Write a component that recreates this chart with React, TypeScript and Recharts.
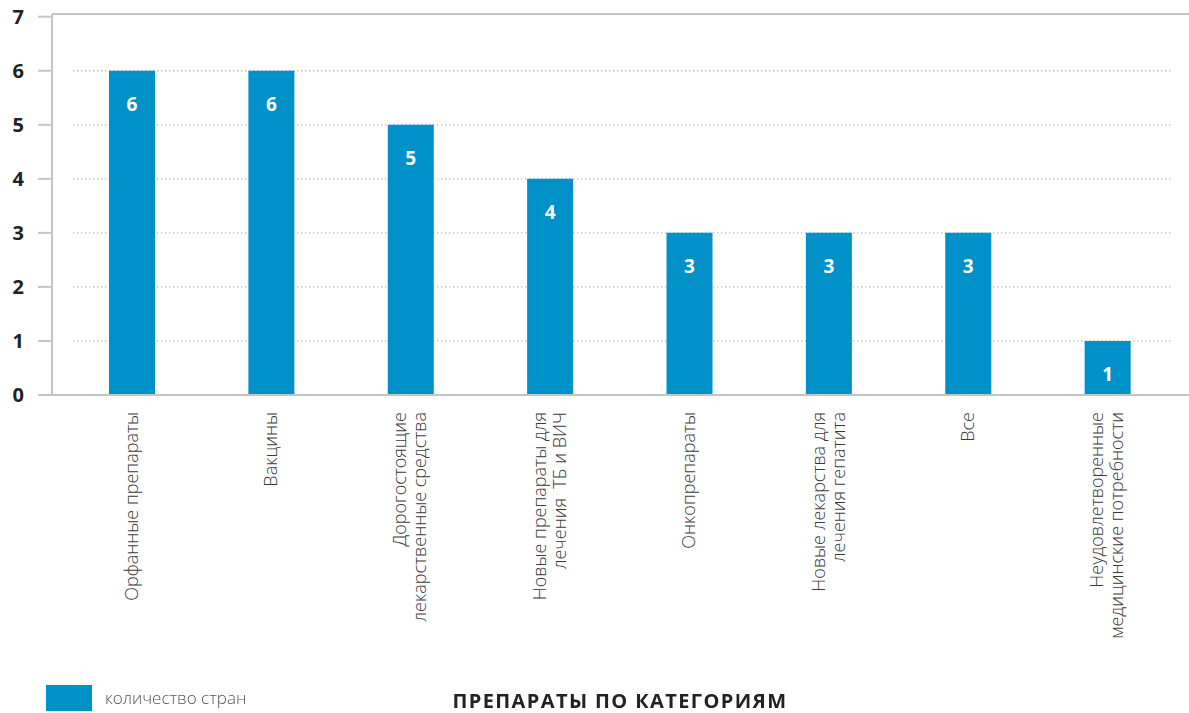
import React from "react";
import { BarChart, Bar, XAxis, YAxis, CartesianGrid, LabelList, ReferenceLine } from "recharts";

const categories: string[][] = [
  ["Орфанные препараты"],
  ["Вакцины"],
  ["Дорогостоящие", "лекарственные средства"],
  ["Новые препараты для", "лечения  ТБ и ВИЧ"],
  ["Онкопрепараты"],
  ["Новые лекарства для", "лечения гепатита"],
  ["Все"],
  ["Неудовлетворенные", "медицинские потребности"],
];
const values: number[] = [6, 6, 5, 4, 3, 3, 3, 1];
const yTicks: number[] = [0, 1, 2, 3, 4, 5, 6, 7];
const gridValues: number[] = [1, 2, 3, 4, 5, 6];
const yMax = 7.05;
const seriesName = "количество стран";
const chartTitle = "ПРЕПАРАТЫ ПО КАТЕГОРИЯМ";

const BAR_COLOR = "#0091c8";
const AXIS_COLOR = "#c4c4c4";
const FONT = "'Open Sans', 'Noto Sans', sans-serif";

const data = categories.map((lines, i) => ({ key: String(i), lines, value: values[i] }));

const CategoryTick = (props: any) => {
  const { x, y, payload } = props;
  const lines: string[] = categories[Number(payload.value)] || [];
  const n = lines.length;
  const lh = 20;
  return (
    <g transform={`translate(${x},${y + 17})`}>
      {lines.map((l, i) => (
        <text
          key={i}
          transform={`rotate(-90)`}
          x={0}
          y={(i - (n - 1) / 2) * lh + 6}
          textAnchor="end"
          fontFamily={FONT}
          fontWeight={300}
          fontSize={18}
          fill="#3a3a3a"
          style={{ whiteSpace: "pre" }}
        >
          {l}
        </text>
      ))}
    </g>
  );
};

export default function App() {
  return (
    <div style={{ position: "fixed", left: 0, top: 0, width: 1189, height: 713, background: "#fff" }}>
      <BarChart
        width={1189}
        height={713}
        data={data}
        margin={{ top: 14, right: 0, bottom: 0, left: 0 }}
        barSize={46}
      >
        <CartesianGrid
          vertical={false}
          stroke="#b5b5b5"
          strokeWidth={1.3}
          strokeDasharray="1.3 2.7"
          horizontalValues={gridValues}
          x={73}
          width={1099}
        />
        <XAxis
          dataKey="key"
          height={318}
          tickLine={false}
          tickSize={0}
          tickMargin={0}
          axisLine={{ stroke: AXIS_COLOR, strokeWidth: 2 }}
          padding={{ left: 10, right: 12 }}
          tick={<CategoryTick />}
          interval={0}
        />
        <YAxis
          width={52}
          domain={[0, yMax]}
          allowDataOverflow
          ticks={yTicks}
          interval={0}
          tickSize={14}
          tickMargin={14}
          tickLine={{ stroke: AXIS_COLOR, strokeWidth: 2 }}
          axisLine={{ stroke: AXIS_COLOR, strokeWidth: 2 }}
          tick={{ fill: "#222", fontSize: 20, fontWeight: 700, fontFamily: FONT }}
        />
        <ReferenceLine y={yMax} stroke={AXIS_COLOR} strokeWidth={2} ifOverflow="visible" />
        <Bar dataKey="value" fill={BAR_COLOR} isAnimationActive={false}>
          <LabelList
            dataKey="value"
            position="insideTop"
            offset={27}
            fill="#fff"
            fontSize={19}
            fontWeight={700}
            fontFamily={FONT}
          />
        </Bar>
      </BarChart>
      <div style={{ position: "absolute", left: 46, top: 685, width: 46, height: 26, background: BAR_COLOR }} />
      <div
        style={{
          position: "absolute",
          left: 105,
          top: 687,
          fontFamily: FONT,
          fontWeight: 300,
          fontSize: 17,
          color: "#555",
          lineHeight: "22px",
          whiteSpace: "nowrap",
        }}
      >
        {seriesName}
      </div>
      <div
        style={{
          position: "absolute",
          left: 420,
          width: 400,
          top: 689,
          textAlign: "center",
          fontFamily: FONT,
          fontWeight: 700,
          fontSize: 20,
          letterSpacing: 1.4,
          color: "#222",
          lineHeight: "24px",
          whiteSpace: "nowrap",
        }}
      >
        {chartTitle}
      </div>
    </div>
  );
}
